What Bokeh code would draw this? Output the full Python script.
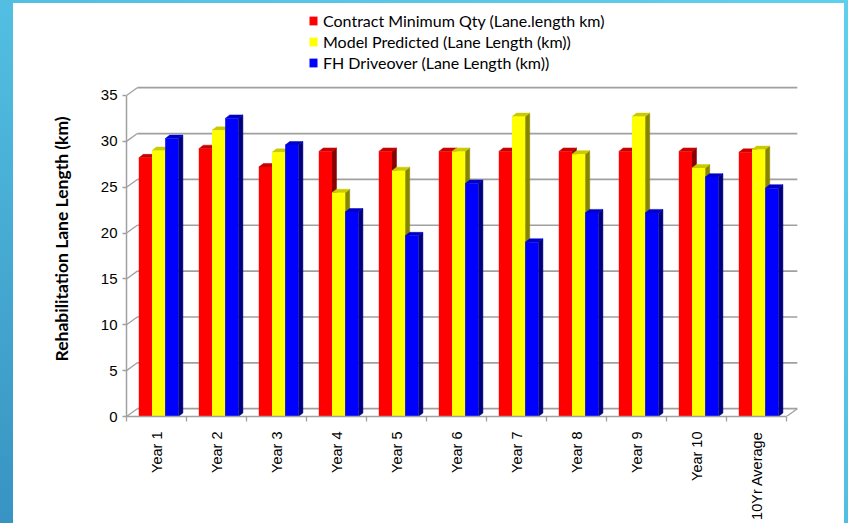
import math

from bokeh.embed import file_html
from bokeh.layouts import column
from bokeh.models import FixedTicker, Legend, LegendItem, Range1d, Title
from bokeh.plotting import figure
from bokeh.resources import INLINE

# ---- data -----------------------------------------------------------------
categories = ["Year 1", "Year 2", "Year 3", "Year 4", "Year 5", "Year 6",
              "Year 7", "Year 8", "Year 9", "Year 10", "10Yr Average"]
contract_min = [28.2, 29.2, 27.2, 28.9, 28.9, 28.9, 28.9, 28.9, 28.9, 28.9, 28.8]
model_predicted = [29.0, 31.2, 28.8, 24.4, 26.8, 28.9, 32.7, 28.6, 32.7, 27.1, 29.1]
fh_driveover = [30.3, 32.5, 29.6, 22.3, 19.7, 25.4, 19.0, 22.2, 22.2, 26.1, 24.9]
series_names = ["Contract Minimum Qty (Lane.length km)",
                "Model Predicted (Lane Length (km))",
                "FH Driveover (Lane Length (km))"]
y_ticks = [0, 5, 10, 15, 20, 25, 30, 35]
y_title = "Rehabilitation Lane Length (km)"

# ---- styling ----------------------------------------------------------------
front_colors = ["#ff0000", "#ffff00", "#0000ff"]
top_colors = ["#c80000", "#caca00", "#0000c8"]
side_colors = ["#8a0000", "#858500", "#00007e"]
grid_color = "#a0a0a0"

# pseudo-3D geometry in data units
wall_dx, wall_dy = 0.18, 0.85      # depth of the back wall
bar_dx, bar_dy = 0.075, 0.38       # depth of each column
group_start, bar_w = 0.205, 0.22   # column placement inside a category slot

n = len(categories)
y_top = 35

# the plot area reaches the top of the panel so the legend sits inside it
p = figure(width=831, height=520, output_backend="svg", toolbar_location=None,
           x_range=Range1d(0, 11.233), y_range=Range1d(0, 45.03),
           min_border_left=113, min_border_right=44,
           min_border_top=0, min_border_bottom=107,
           border_fill_color="white", background_fill_color="white",
           outline_line_color=None, styles={"background-color": "white"})
p.xgrid.visible = False
p.ygrid.visible = False

# back wall gridlines
p.segment(x0=[wall_dx] * len(y_ticks), y0=[v + wall_dy for v in y_ticks],
          x1=[n + wall_dx] * len(y_ticks), y1=[v + wall_dy for v in y_ticks],
          line_color=grid_color, line_width=1.7)
# side wall edges running from the front axis to the back wall
p.segment(x0=[0] * len(y_ticks), y0=y_ticks,
          x1=[wall_dx] * len(y_ticks), y1=[v + wall_dy for v in y_ticks],
          line_color=grid_color, line_width=1.3)
# right floor edge
p.segment(x0=[n], y0=[0], x1=[n + wall_dx], y1=[wall_dy],
          line_color=grid_color, line_width=1.3)

legend_items = []
for k, values in enumerate([contract_min, model_predicted, fh_driveover]):
    lefts = [i + group_start + k * bar_w for i in range(n)]
    rights = [l + bar_w for l in lefts]
    side_xs = [[r, r + bar_dx, r + bar_dx, r] for r in rights]
    side_ys = [[0, bar_dy, v + bar_dy, v] for v in values]
    top_xs = [[l, r, r + bar_dx, l + bar_dx] for l, r in zip(lefts, rights)]
    top_ys = [[v, v, v + bar_dy, v + bar_dy] for v in values]
    p.patches(side_xs, side_ys, fill_color=side_colors[k],
              line_color=side_colors[k], line_width=0.5)
    p.patches(top_xs, top_ys, fill_color=top_colors[k],
              line_color=top_colors[k], line_width=0.5)
    front = p.quad(left=lefts, right=rights, bottom=0, top=values,
                   fill_color=front_colors[k], line_color=None)
    legend_items.append(LegendItem(label=series_names[k], renderers=[front]))

# axes
p.yaxis.ticker = FixedTicker(ticks=y_ticks, minor_ticks=[])
p.yaxis.bounds = (0, y_top)
p.yaxis.axis_line_color = grid_color
p.yaxis.axis_line_width = 1.5
p.yaxis.major_tick_line_color = grid_color
p.yaxis.major_tick_line_width = 1.3
p.yaxis.major_tick_out = 4
p.yaxis.major_tick_in = 0
p.yaxis.minor_tick_line_color = None
p.yaxis.major_label_text_font = "Liberation Sans"
p.yaxis.major_label_text_font_size = "15px"
p.yaxis.major_label_text_color = "#000000"
p.yaxis.major_label_standoff = 5

centers = [i + 0.5 for i in range(n)]
p.xaxis.ticker = FixedTicker(ticks=centers, minor_ticks=list(range(n + 1)))
p.xaxis.major_label_overrides = {c: name for c, name in zip(centers, categories)}
p.xaxis.bounds = (0, n)
p.xaxis.axis_line_color = grid_color
p.xaxis.axis_line_width = 1.5
p.xaxis.major_tick_line_color = None
p.xaxis.major_tick_out = 0
p.xaxis.major_tick_in = 0
p.xaxis.minor_tick_line_color = grid_color
p.xaxis.minor_tick_line_width = 1.3
p.xaxis.minor_tick_out = 5
p.xaxis.minor_tick_in = 0
p.xaxis.major_label_orientation = math.pi / 2
p.xaxis.major_label_text_font = "Liberation Sans"
p.xaxis.major_label_text_font_size = "14.5px"
p.xaxis.major_label_text_color = "#000000"
p.xaxis.major_label_standoff = 10

# vertical axis title, measured up from the bottom of the plot area
title_kw = dict(text=y_title, align="left", offset=55,
                text_font="Lato", text_font_style="bold",
                text_font_size="17.5px", text_color="#000000")
if "standoff" in Title.properties():
    title_kw["standoff"] = 52
p.add_layout(Title(**title_kw), "left")

legend = Legend(items=legend_items, location=(182, 343),
                orientation="vertical", padding=0, margin=0, spacing=0,
                glyph_width=10, glyph_height=11, label_height=21,
                label_standoff=5, label_text_font="Lato",
                label_text_font_size="16px", label_text_color="#000000",
                background_fill_alpha=0, border_line_color=None)
p.add_layout(legend)

page = column(p, width=848, height=523, styles={
    "padding": "3px 4px 0px 13px",
    "background": "linear-gradient(to bottom left, #5fd0ec 0%, #52bfe2 50%, #3893c2 100%)",
})

open("out.html", "w").write(file_html(page, INLINE))
